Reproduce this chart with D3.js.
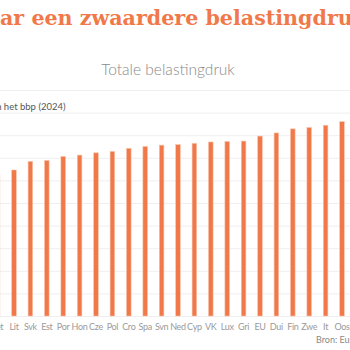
<!DOCTYPE html>
<html>
<head>
<meta charset="utf-8">
<script src="https://cdn.jsdelivr.net/npm/d3@7"></script>
<style>
  html, body { margin: 0; padding: 0; background: #fff; overflow: hidden; }
  svg { display: block; }
</style>
</head>
<body>
<svg id="chart" width="350" height="350"></svg>
<script>
// Total tax burden per country, % of GDP (2024)
const countries = ["Let", "Lit", "Svk", "Est", "Por", "Hon", "Cze", "Pol", "Cro", "Spa", "Svn",
                   "Ned", "Cyp", "VK", "Lux", "Gri", "EU", "Dui", "Fin", "Zwe", "It", "Oos"];
const burden = [31.2, 32.3, 34.2, 34.4, 35.3, 35.6, 36.1, 36.4, 37.1, 37.5, 37.8,
                37.9, 38.2, 38.5, 38.6, 38.7, 39.8, 40.5, 41.4, 41.7, 42.2, 43.0];
const yTicks = [0, 5, 10, 15, 20, 25, 30, 35, 40, 45, 50];

const titleText = "Naar een zwaardere belastingdruk";
const subtitleText = "Totale belastingdruk";
const unitText = "In % van het bbp (2024)";
const sourceText = "Bron: Eurostat";

const W = 350, H = 350;
const orange = "#f07849";
const svg = d3.select("#chart");

const x = d3.scaleBand()
  .domain(countries)
  .range([-10.6, 350.2])
  .paddingInner(0.72)
  .paddingOuter(0.36);

const y = d3.scaleLinear().domain([0, 50]).range([316, 90]);

// horizontal gridlines
const grid = svg.append("g")
  .call(d3.axisLeft(y).tickValues(yTicks).tickSize(-W).tickFormat(""));
grid.select(".domain").remove();
grid.selectAll(".tick line").attr("stroke", "#efefef").attr("stroke-width", 1);

// bars
svg.append("g")
  .selectAll("rect")
  .data(countries)
  .join("rect")
  .attr("x", d => x(d))
  .attr("width", x.bandwidth())
  .attr("y", (d, i) => y(burden[i]))
  .attr("height", (d, i) => y(0) - y(burden[i]))
  .attr("fill", orange)
  .attr("stroke", "#f8c2a8")
  .attr("stroke-width", 0.6);

// country labels
const xAxis = svg.append("g")
  .attr("transform", `translate(0,${y(0)})`)
  .call(d3.axisBottom(x).tickSize(0).tickPadding(8));
xAxis.select(".domain").remove();
xAxis.selectAll("text")
  .attr("fill", "#9a9a9a")
  .attr("font-family", "Lato")
  .attr("font-size", 9)
  .attr("letter-spacing", -0.3);

// title, its first letters run off the left edge
const title = svg.append("text")
  .attr("y", 25)
  .attr("font-family", "DejaVu Serif")
  .attr("font-weight", "bold")
  .attr("font-size", 22)
  .attr("fill", orange)
  .text(titleText);
const node = title.node();
const wVisible = node.getSubStringLength(2, titleText.length - 4);
title.attr("font-size", 22 * 338 / wVisible);
title.attr("x", -node.getSubStringLength(0, 2));

// subtitle
svg.append("text")
  .attr("x", 168)
  .attr("y", 74.5)
  .attr("text-anchor", "middle")
  .attr("font-family", "Lato")
  .attr("font-weight", 300)
  .attr("font-size", 15.5)
  .attr("fill", "#8a8a8a")
  .text(subtitleText);

// unit label
svg.append("text")
  .attr("x", 65.5)
  .attr("y", 109.5)
  .attr("text-anchor", "end")
  .attr("font-family", "Lato")
  .attr("font-size", 9.5)
  .attr("fill", "#555")
  .text(unitText);

// source
svg.append("text")
  .attr("x", 316)
  .attr("y", 343)
  .attr("font-family", "Lato")
  .attr("font-size", 9)
  .attr("fill", "#8a8a8a")
  .text(sourceText);
</script>
</body>
</html>
